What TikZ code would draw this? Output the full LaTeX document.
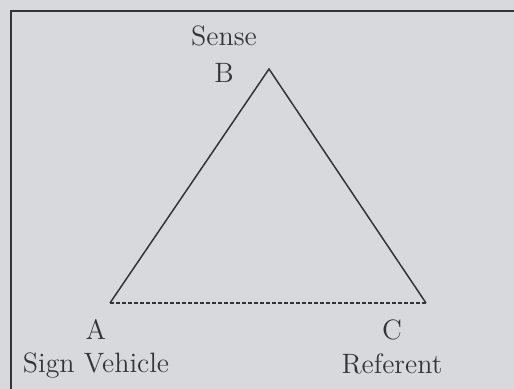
\documentclass[tikz,border=0pt]{standalone}
\usetikzlibrary{positioning}
\definecolor{paper}{RGB}{216,217,221}
\definecolor{ink}{RGB}{52,52,54}
\begin{document}
\begin{tikzpicture}[
    x=0.5pt, y=-0.5pt,
    font=\fontsize{14}{16}\selectfont,
    vertexlabel/.style={
        text=ink,
        inner sep=0pt,
        anchor=base
    },
    namelabel/.style={
        text=ink,
        inner sep=0pt
    },
    sideedge/.style={draw=ink, line width=0.75pt, line join=miter},
    baseedge/.style={draw=ink, line width=0.75pt, dash pattern=on 2pt off 1pt}
]
% ============================================================
% PAGE -- grey paper and the frame (open to right and bottom)
% ============================================================
\useasboundingbox[fill=paper] (0,0) rectangle (514,389);
\draw[draw=ink, line width=1pt] (11,389) -- (11,11) -- (514,11);
% ============================================================
% CORNERS OF THE TRIANGLE
% ============================================================
\coordinate (vA) at (110,303);
\coordinate (vB) at (269,69);
\coordinate (vC) at (426,303);
% ============================================================
% LETTERS AND NAMES
% ============================================================
\node[vertexlabel] (lblB) at (224,83) {B};
\node[namelabel, above=8.5pt of lblB] (sense) {Sense};
\node[vertexlabel] (lblA) at (96,340) {A};
\node[namelabel, below=6pt of lblA] (signvehicle) {Sign Vehicle};
\node[vertexlabel] (lblC) at (392,340) {C};
\node[namelabel, below=6pt of lblC] (referent) {Referent};
% ============================================================
% SIDES -- solid to the apex, dashed along the base
% ============================================================
\draw[sideedge] (vA) -- (vB) -- (vC);
\draw[baseedge] (vA) -- (vC);
\end{tikzpicture}
\end{document}
